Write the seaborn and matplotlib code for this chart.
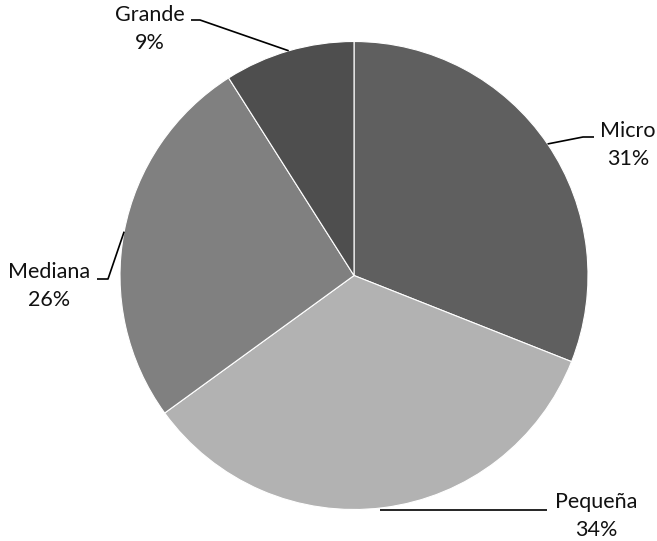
import numpy as np
import matplotlib
matplotlib.use("Agg")
import matplotlib.pyplot as plt
import seaborn as sns

sns.set_theme(style="white")
plt.rcParams["font.family"] = ["Lato", "DejaVu Sans"]

# Share of firms by size
categories = ["Micro", "Pequeña", "Mediana", "Grande"]
shares = [31, 34, 26, 9]
colors = ["#5f5f5f", "#b2b2b2", "#808080", "#4e4e4e"]

W, H = 657, 541
fig = plt.figure(figsize=(W / 100, H / 100), dpi=100)
ax = fig.add_axes([0, 0, 1, 1])

cx, cy, r = 354, 275.5, 234

wedges, _ = ax.pie(
    shares, colors=colors, startangle=90, counterclock=False,
    center=(cx, -cy), radius=r,
    wedgeprops=dict(edgecolor="white", linewidth=0.8),
)
# pixel-like frame: x to the right, y = -row
ax.set_xlim(0, W)
ax.set_ylim(-H, 0)
ax.set_aspect("equal")
ax.axis("off")

# label layout: text centre, elbow point, line end (rows counted from the top)
layout = {
    "Micro":   dict(text=(628, 145), elbow=(583, 137), end=(594, 137)),
    "Pequeña": dict(text=(596, 516), elbow=None, end=(547, 510)),
    "Mediana": dict(text=(49, 286), elbow=(108, 279), end=(97, 279)),
    "Grande":  dict(text=(150, 29), elbow=(200, 20), end=(191, 20)),
}

for w, name, val in zip(wedges, categories, shares):
    mid = np.deg2rad((w.theta1 + w.theta2) / 2)
    ex, ey = cx + r * np.cos(mid), -cy + r * np.sin(mid)
    lay = layout[name]
    if lay["elbow"] is not None:
        pts = [(ex, ey), (lay["elbow"][0], -lay["elbow"][1])]
    else:
        pts = [(ex - 3, -lay["end"][1])]
    pts.append((lay["end"][0], -lay["end"][1]))
    xs, ys = zip(*pts)
    ax.plot(xs, ys, color="black", lw=1.2, solid_capstyle="butt")
    tx, ty = lay["text"]
    ax.text(tx, -ty, f"{name}\n{val}%", ha="center", va="center",
            fontsize=15.5, color="#111111", linespacing=1.55)

fig.savefig("out.png", dpi=100)
